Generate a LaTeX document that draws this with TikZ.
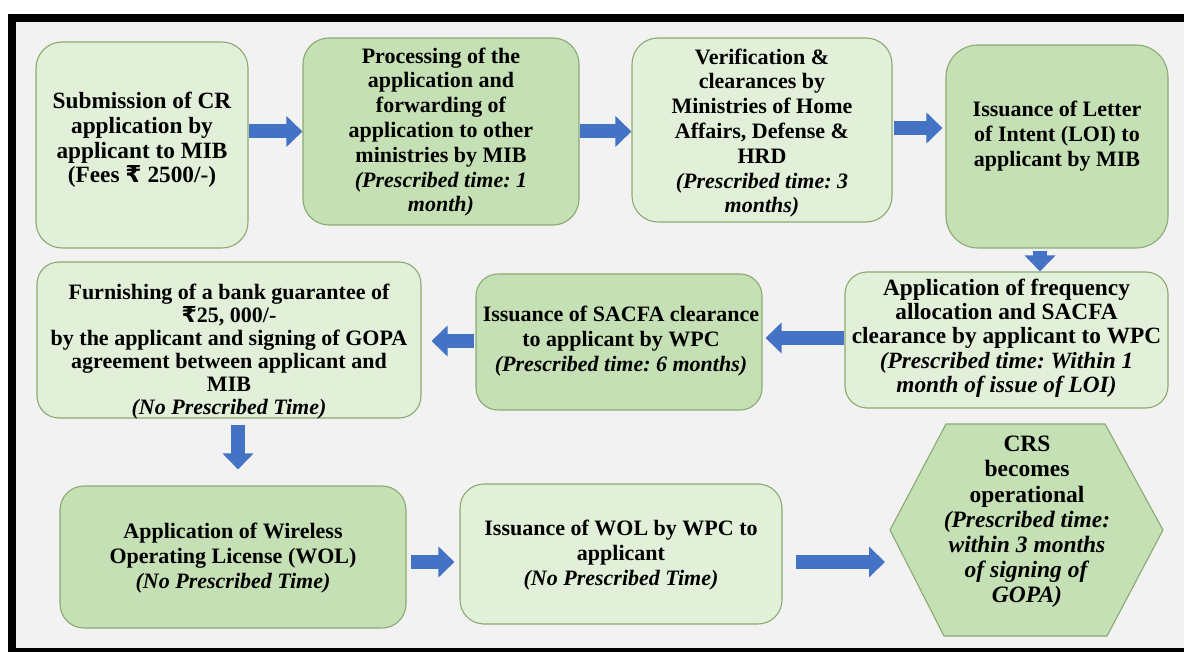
\documentclass[tikz,border=0pt]{standalone}
\usepackage{fontspec}
\setmainfont{Liberation Serif}[BoldFont={Liberation Serif Bold}, ItalicFont={Liberation Serif Italic}, BoldItalicFont={Liberation Serif Bold Italic}]
\newfontfamily\rupeefont{DejaVu Sans}
\newcommand{\rupeesign}{{\rupeefont\bfseries ₹}}
\frenchspacing
\usetikzlibrary{arrows.meta}
\definecolor{bgc}{HTML}{F2F2F2}
\definecolor{lgc}{HTML}{E2F0D9}
\definecolor{dgc}{HTML}{C5E0B4}
\definecolor{bdc}{HTML}{8AAA72}
\definecolor{abc}{HTML}{4472C4}
\begin{document}
\begin{tikzpicture}[x=1pt,y=-1pt,
  lbox/.style={draw=bdc, line width=1.1pt, fill=lgc, rounded corners=26pt, inner sep=0pt},
  dbox/.style={lbox, fill=dgc},
  txt/.style={font=\fontsize{22}{24.8}\selectfont\bfseries, align=center, inner sep=0pt},
  barrow/.style={line width=14pt, draw=abc, -{Triangle[length=16pt,width=30pt]}}]
\useasboundingbox (0,0) rectangle (1184,652);
\fill[white] (0,0) rectangle (1184,652);
\fill[black] (8,14) rectangle (1184,652);
\fill[bgc] (16,22) rectangle (1184,648);
% row 1
\node[lbox, minimum width=212pt, minimum height=206pt] (b1) at (142,145) {};
\node[txt, font=\fontsize{23.3}{24.6}\selectfont\bfseries] (t1) at (142,140) {Submission of CR\\application by\\applicant to MIB\\(Fees \rupeesign{} 2500/-)};
\node[dbox, minimum width=276pt, minimum height=187pt] (b2) at (441,131.5) {};
\node[txt] (t2) at (441,132) {Processing of the\\application and\\forwarding of\\application to other\\ministries by MIB\\\textit{(Prescribed time: 1}\\\textit{month)}};
\node[lbox, minimum width=260pt, minimum height=184pt] (b3) at (762,130) {};
\node[txt] (t3) at (762,133) {Verification \&\\clearances by\\Ministries of Home\\Affairs, Defense \&\\HRD\\\textit{(Prescribed time: 3}\\\textit{months)}};
\node[dbox, rounded corners=32pt, minimum width=222pt, minimum height=203pt] (b4) at (1057,146.5) {};
\node[txt] (t4) at (1057,136) {Issuance of Letter\\of Intent (LOI) to\\applicant by MIB};
% row 2
\node[lbox, rounded corners=22pt, minimum width=323pt, minimum height=136pt] (b5) at (1006.5,340) {};
\node[txt, font=\fontsize{23.3}{24.3}\selectfont\bfseries] (t5) at (1006.5,338) {Application of frequency\\allocation and SACFA\\clearance by applicant to WPC\\\textit{(Prescribed time: Within 1}\\\textit{month of issue of LOI)}};
\node[dbox, rounded corners=22pt, minimum width=286pt, minimum height=136pt] (b6) at (619,342) {};
\node[txt] (t6) at (621,341) {Issuance of SACFA clearance\\to applicant by WPC\\\textit{(Prescribed time: 6 months)}};
\node[lbox, rounded corners=22pt, minimum width=384pt, minimum height=156pt] (b7) at (229,340) {};
\node[txt, font=\fontsize{22}{23}\selectfont\bfseries] (t7) at (229,352) {Furnishing of a bank guarantee of\\\rupeesign{}25, 000/-\\by the applicant and signing of GOPA\\agreement between applicant and\\MIB\\\textit{(No Prescribed Time)}};
% row 3
\node[dbox, rounded corners=24pt, minimum width=346pt, minimum height=142pt] (b8) at (233,557) {};
\node[txt] (t8) at (233,558) {Application of Wireless\\Operating License (WOL)\\\textit{(No Prescribed Time)}};
\node[lbox, rounded corners=24pt, minimum width=322pt, minimum height=140pt] (b9) at (621,554) {};
\node[txt] (t9) at (621,555) {Issuance of WOL by WPC to\\applicant\\\textit{(No Prescribed Time)}};
\draw[draw=bdc, line width=1.1pt, fill=dgc] (946,424) -- (1105,424) -- (1163,530) -- (1107,636) -- (944,636) -- (890,530) -- cycle;
\coordinate (hexL) at (890,530);
\node[txt, font=\fontsize{23.5}{25.2}\selectfont\bfseries] (t10) at (1027,522) {CRS\\becomes\\operational\\\textit{(Prescribed time:}\\\textit{within 3 months}\\\textit{of signing of}\\\textit{GOPA)}};
% arrows
\draw[barrow] (b1.east |- b2.west) -- (b2.west);
\draw[barrow] (b2.east) -- (b2.east -| b3.west);
\draw[barrow, shorten <=1pt, shorten >=3pt] ([yshift=2pt]b3.east) -- ([yshift=2pt]b3.east -| b4.west);
\draw[barrow, shorten <=2pt] ([xshift=-17pt]b4.south) -- ([xshift=-17pt]b4.south |- b5.north);
\draw[barrow, shorten >=3pt] ([yshift=2pt]b5.west) -- ([yshift=2pt]b5.west -| b6.east);
\draw[barrow, shorten <=1pt, shorten >=10pt] ([yshift=1pt]b6.west) -- ([yshift=1pt]b6.west -| b7.east);
\draw[barrow, shorten <=6pt, shorten >=16pt] ([xshift=9pt]b7.south) -- ([xshift=9pt]b7.south |- b8.north);
\draw[barrow, shorten <=4pt, shorten >=5pt] ([yshift=-5pt]b8.east) -- ([yshift=-5pt]b8.east -| b9.west);
\draw[barrow, shorten <=13pt, shorten >=5pt] ([yshift=-8pt]b9.east) -- ([yshift=-8pt]b9.east -| hexL);
\end{tikzpicture}
\end{document}
